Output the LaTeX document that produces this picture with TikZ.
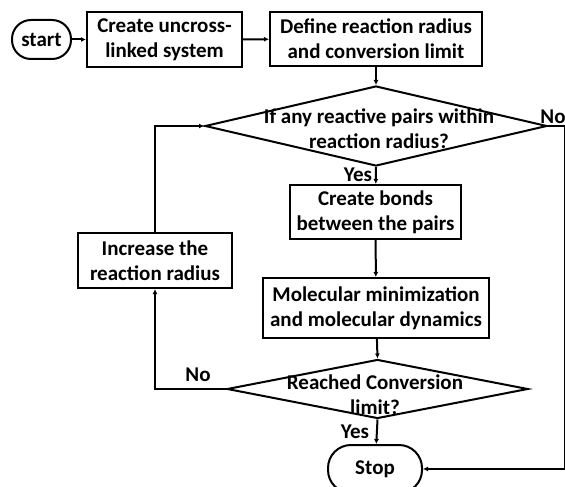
\documentclass[tikz,border=0pt]{standalone}
\usepackage{fontspec}
\setmainfont{Carlito}
\usetikzlibrary{arrows.meta,shapes.geometric}
\begin{document}
\begin{tikzpicture}[x=1pt,y=-1pt,
  every node/.style={font=\bfseries\fontsize{21}{25}\selectfont},
  box/.style={draw,line width=2pt,inner sep=0pt,align=center},
  term/.style={box},
  dia/.style={draw,diamond,line width=2pt,inner sep=0pt},
  lbl/.style={align=center,inner sep=0pt},
  arr/.style={line width=2pt,-{Latex[length=5pt,width=5pt]}},
  ln/.style={line width=2pt}]
\useasboundingbox (0,0) rectangle (565,487);
\node[term,minimum width=59pt,minimum height=39pt,rounded corners=19pt] (start) at (41.5,39.5) {start};
\node[box,minimum width=155pt,minimum height=55pt] (b1) at (164.5,39.5) {Create uncross-\\linked system};
\node[box,minimum width=212pt,minimum height=54pt] (b2) at (376,39) {Define reaction radius\\and conversion limit};
\node[dia,minimum width=342pt,minimum height=80pt] (d1) at (376,126) {};
\node[lbl] (t1) at (379,129) {If any reactive pairs within\\reaction radius?};
\node[box,minimum width=171pt,minimum height=54pt] (b3) at (375.5,212) {Create bonds\\between the pairs};
\node[box,minimum width=226pt,minimum height=60pt] (b4) at (376,308) {Molecular minimization\\and molecular dynamics};
\node[dia,minimum width=301pt,minimum height=59pt] (d2) at (377.5,389) {};
\node[lbl] (t2) at (375,395) {Reached Conversion\\limit?};
\node[box,minimum width=154pt,minimum height=55pt] (b5) at (155,260.5) {Increase the\\reaction radius};
\node[term,minimum width=94pt,minimum height=48pt,rounded corners=23pt] (stop) at (375,469) {Stop};
\coordinate (rc) at (565,126);
\node[lbl] (no1) at (553,117) {No};
\node[lbl] (yes1) at (358,175) {Yes};
\node[lbl] (no2) at (198,375) {No};
\node[lbl] (yes2) at (355,432) {Yes};
\draw[arr] (start) -- (b1);
\draw[arr] (b1) -- (b2);
\draw[arr] (b2) -- (d1.north);
\draw[arr] (d1.south) -- (b3);
\draw[arr] (b3) -- (b4);
\draw[arr] (b4) -- (d2.north);
\draw[arr] (d2.south) -- (stop);
\draw[arr] (d2.west) -| (b5.south);
\draw[arr] (b5.north) |- (d1.west);
\draw[arr] (d1.east) -- (rc) |- (stop.east);
\end{tikzpicture}
\end{document}
